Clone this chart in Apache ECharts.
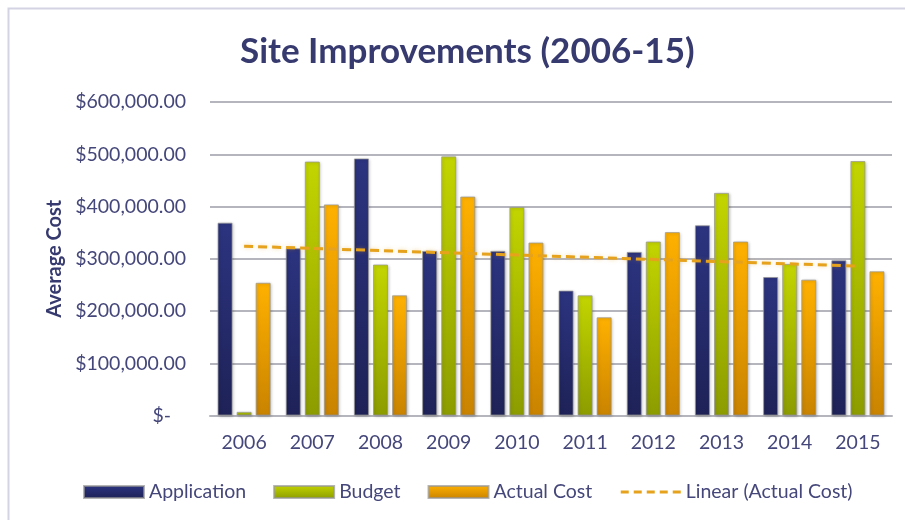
<!DOCTYPE html>
<html>
<head>
<meta charset="utf-8">
<script src="https://cdn.jsdelivr.net/npm/echarts@6/dist/echarts.min.js"></script>
<style>html,body{margin:0;padding:0;background:#fff}#c{width:905px;height:520px}</style>
</head>
<body>
<div id="c"></div>
<script>
const categories = ['2006','2007','2008','2009','2010','2011','2012','2013','2014','2015'];
const application = [369000, 320000, 492000, 315000, 315000, 239000, 313000, 364000, 265000, 297000];
const budget = [7000, 486000, 289000, 496000, 399000, 230000, 333000, 426000, 290000, 487000];
const actualCost = [254000, 404000, 230000, 419000, 331000, 188000, 351000, 333000, 260000, 276000];
// trendline end points (first and last category)
const trendStart = 324000;
const trendEnd = 286000;
const yTicks = [0, 100000, 200000, 300000, 400000, 500000, 600000];

const trendData = categories.map((c, i) => i === 0 ? trendStart : (i === categories.length - 1 ? trendEnd : null));

const grad = (top, bottom) => ({type:'linear', x:0, y:0, x2:0, y2:1, colorStops:[{offset:0, color:top},{offset:1, color:bottom}]});
const font = 'Lato, "Open Sans", sans-serif';
const txt = '#45477a';

const chart = echarts.init(document.getElementById('c'), null, {renderer:'canvas'});
const barStyle = (top, bottom) => ({
  color: grad(top, bottom),
  borderColor: 'rgba(150,150,150,0.7)',
  borderWidth: 1,
  shadowColor: 'rgba(0,0,0,0.25)',
  shadowBlur: 3,
  shadowOffsetX: 1,
  shadowOffsetY: 1
});
chart.setOption({
  animation: false,
  backgroundColor: '#fff',
  graphic: [{
    type: 'rect', shape: {x: 8.5, y: 8.5, width: 1000, height: 1000},
    style: {fill: 'none', stroke: '#d3d3e3', lineWidth: 2}, silent: true
  }],
  title: {
    text: 'Site Improvements (2006-15)',
    left: 235, top: 29,
    textStyle: {fontFamily: font, fontSize: 35, fontWeight: 'bold', color: '#363a6e'}
  },
  legend: {
    bottom: 13, left: 78,
    itemWidth: 60, itemHeight: 12, itemGap: 27,
    textStyle: {fontFamily: font, fontSize: 19.5, color: txt},
    data: [
      {name: 'Application', icon: 'rect'},
      {name: 'Budget', icon: 'rect'},
      {name: 'Actual Cost', icon: 'rect'},
      {name: 'Linear (Actual Cost)', itemStyle: {opacity: 0}, lineStyle: {type: [8, 5], width: 3}}
    ]
  },
  grid: {left: 210, right: 13, top: 102, bottom: 104.5},
  xAxis: {
    type: 'category', data: categories,
    axisTick: {show: false},
    axisLine: {lineStyle: {color: '#b5b5bd', width: 2}},
    axisLabel: {fontFamily: font, fontSize: 19.5, color: txt, margin: 17}
  },
  yAxis: {
    type: 'value', min: 0, max: 600000, interval: 100000,
    name: 'Average Cost', nameLocation: 'middle', nameGap: 144,
    nameTextStyle: {fontFamily: font, fontSize: 20, fontWeight: 'bold', color: '#363a6e'},
    axisLabel: {
      fontFamily: font, fontSize: 19.5, color: txt, margin: 24,
      formatter: v => v === 0 ? '$-   ' : '$' + v.toLocaleString('en-US') + '.00'
    },
    splitLine: {lineStyle: {color: '#b5b5bd', width: 2}},
    axisLine: {show: false}, axisTick: {show: false}
  },
  series: [
    {name: 'Application', type: 'bar', data: application, barWidth: 15, barGap: '27%',
     itemStyle: barStyle('#2c3480', '#1e2257')},
    {name: 'Budget', type: 'bar', data: budget, barWidth: 15, barGap: '27%',
     itemStyle: barStyle('#c3d500', '#8c9c00')},
    {name: 'Actual Cost', type: 'bar', data: actualCost, barWidth: 15, barGap: '27%',
     itemStyle: barStyle('#ffb100', '#c98300')},
    {name: 'Linear (Actual Cost)', type: 'line', data: trendData, connectNulls: true,
     symbol: 'none', z: 5,
     lineStyle: {color: '#e6a21c', width: 3, type: [9, 5], shadowColor: 'rgba(230,162,28,0.35)', shadowBlur: 4},
     itemStyle: {color: '#e6a21c'}}
  ]
});
</script>
</body>
</html>
